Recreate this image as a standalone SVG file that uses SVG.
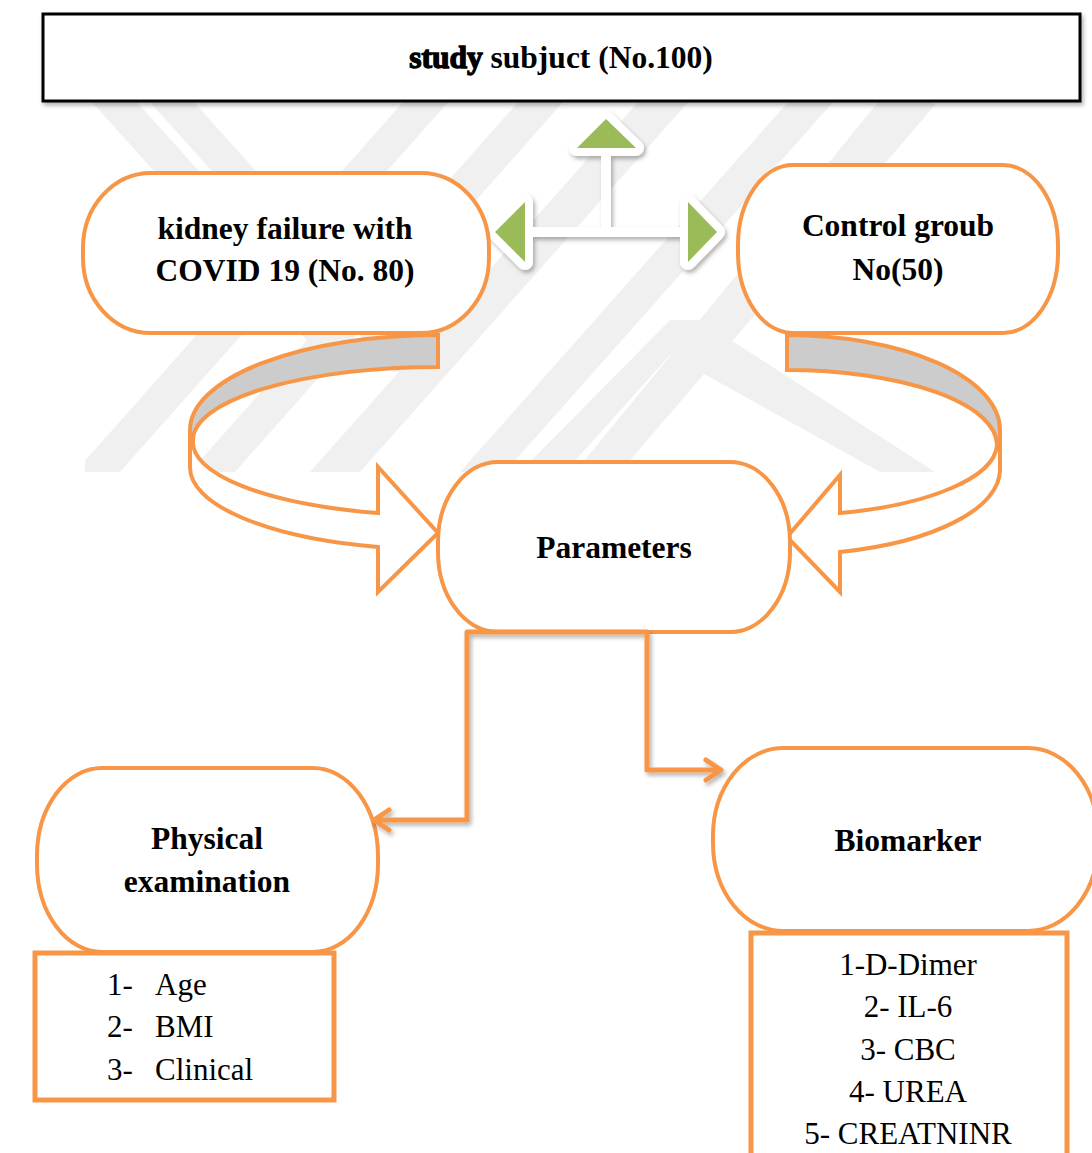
<svg xmlns="http://www.w3.org/2000/svg" width="1092" height="1153" viewBox="0 0 1092 1153">
  <style>
    .t { font-family: "Liberation Serif", "Times New Roman", serif; fill: #000; }
    .b { font-weight: bold; font-size: 31.5px; }
    .r { font-size: 31px; }
    .node { fill: #fff; stroke: #F79646; stroke-width: 4; }
    .list { fill: #fff; stroke: #F79646; stroke-width: 5; }
    .rib { stroke: #F79646; stroke-width: 4; stroke-linejoin: miter; }
    .conn { fill: none; stroke: #F79646; stroke-width: 5; stroke-linejoin: round; }
    .wm { fill: #f0f0f0; }
    .grn { fill: #9BBB59; }
  </style>
  <defs>
    <filter id="sh" x="-20%" y="-20%" width="140%" height="140%">
      <feDropShadow dx="2" dy="3" stdDeviation="2" flood-color="#000" flood-opacity="0.3"/>
    </filter>
    <clipPath id="wmclip"><rect x="85" y="100" width="850" height="372"/></clipPath>
    <marker id="chev" markerUnits="userSpaceOnUse" markerWidth="26" markerHeight="26" viewBox="0 0 26 26" refX="21" refY="13" orient="auto">
      <path d="M6,3 L21,13 L6,23" fill="none" stroke="#F79646" stroke-width="5" stroke-linecap="round" stroke-linejoin="round"/>
    </marker>
  </defs>
  <rect width="1092" height="1153" fill="#fff"/>

  <!-- watermark -->
  <g id="watermark" clip-path="url(#wmclip)">
    <polygon class="wm" points="90,100 135,100 380,372 335,372"/>
    <polygon class="wm" points="148,100 192,100 437,372 393,372"/>
    <polygon class="wm" points="520,100 565,100 235,472 190,472"/>
    <polygon class="wm" points="405,100 450,100 120,472 75,472"/>
    <polygon class="wm" points="640,100 690,100 360,472 310,472"/>
    <polygon class="wm" points="790,100 835,100 505,472 460,472"/>
    <polygon class="wm" points="670,320 700,320 935,472 880,472 670,355 565,472 520,472"/>
    <polygon class="wm" points="880,100 930,100 935,105 620,472 575,472"/>
  </g>

  <!-- ribbon arrows -->
  <g id="ribbon-left">
    <path class="rib" fill="#fff" d="M193,440 A245,73 0 0 0 378,513 L378,467 L438,533 L378,592 L378,547 A248,82 0 0 1 190,467 L190,440 Z"/>
    <path class="rib" fill="#cccccc" d="M438,335 A248,95 0 0 0 190,430 L190,440 L193,440 A245,73 0 0 1 438,367 Z"/>
  </g>
  <g id="ribbon-right">
    <path class="rib" fill="#fff" d="M997,445 A210,72 0 0 1 840,513 L840,475 L787,537 L840,592 L840,552 A213,85 0 0 0 1000,470 L1000,445 Z"/>
    <path class="rib" fill="#cccccc" d="M787,335 A213,95 0 0 1 1000,430 L1000,445 L997,445 A210,75 0 0 0 787,370 Z"/>
  </g>

  <!-- title -->
  <g id="title">
    <rect x="43" y="14" width="1037" height="87" fill="#fff" stroke="#000" stroke-width="3" filter="url(#sh)"/>
    <text class="t b" x="561" y="68" text-anchor="middle"><tspan stroke="#000" stroke-width="1.3">study</tspan> subjuct (No.100)</text>
  </g>

  <!-- three-way green arrow -->
  <g id="tri-arrow">
    <g filter="url(#sh)" fill="#fff" stroke="#fff" stroke-linejoin="round">
      <polygon points="606,119 636,148 577,148" stroke-width="16"/>
      <polygon points="495,232 525,202 525,262" stroke-width="16"/>
      <polygon points="717,232 688,202 688,262" stroke-width="16"/>
      <line x1="606" y1="150" x2="606" y2="232" stroke-width="10"/>
      <line x1="525" y1="232" x2="688" y2="232" stroke-width="10"/>
    </g>
    <polygon class="grn" points="606,119 636,148 577,148"/>
    <polygon class="grn" points="495,232 525,202 525,262"/>
    <polygon class="grn" points="717,232 688,202 688,262"/>
  </g>

  <g id="node-kidney">
    <rect class="node" x="83" y="173" width="406" height="160" rx="68" ry="75"/>
    <text class="t b" x="285" y="239" text-anchor="middle">kidney failure with</text>
    <text class="t b" x="285" y="281" text-anchor="middle">COVID 19 (No. 80)</text>
  </g>
  <g id="node-control">
    <rect class="node" x="738" y="165" width="320" height="168" rx="55" ry="80"/>
    <text class="t b" x="898" y="236" text-anchor="middle">Control groub</text>
    <text class="t b" x="898" y="280" text-anchor="middle">No(50)</text>
  </g>
  <g id="node-parameters">
    <rect class="node" x="438" y="462" width="352" height="170" rx="60" ry="80"/>
    <text class="t b" x="614" y="558" text-anchor="middle">Parameters</text>
  </g>
  <g id="node-physical">
    <rect class="node" x="37" y="768" width="341" height="184" rx="65" ry="88"/>
    <text class="t b" x="207" y="849" text-anchor="middle">Physical</text>
    <text class="t b" x="207" y="892" text-anchor="middle">examination</text>
  </g>
  <g id="list-physical">
    <rect class="list" x="35" y="953" width="299" height="147"/>
    <text class="t r" x="107" y="995">1-</text><text class="t r" x="155" y="995">Age</text>
    <text class="t r" x="107" y="1037">2-</text><text class="t r" x="155" y="1037">BMI</text>
    <text class="t r" x="107" y="1080">3-</text><text class="t r" x="155" y="1080">Clinical</text>
  </g>
  <g id="node-biomarker">
    <rect class="node" x="713" y="748" width="385" height="183" rx="70" ry="88"/>
    <text class="t b" x="908" y="851" text-anchor="middle">Biomarker</text>
  </g>
  <g id="list-biomarker">
    <rect class="list" x="751" y="933" width="316" height="240"/>
    <text class="t r" x="908" y="975" text-anchor="middle">1-D-Dimer</text>
    <text class="t r" x="908" y="1017" text-anchor="middle">2- IL-6</text>
    <text class="t r" x="908" y="1060" text-anchor="middle">3- CBC</text>
    <text class="t r" x="908" y="1102" text-anchor="middle">4- UREA</text>
    <text class="t r" x="908" y="1144" text-anchor="middle">5- CREATNINR</text>
  </g>

  <!-- connectors -->
  <g id="connectors" filter="url(#sh)">
    <path class="conn" d="M570,632 H467 V820 H374" marker-end="url(#chev)"/>
    <path class="conn" d="M570,632 H647 V770 H721" marker-end="url(#chev)"/>
  </g>
</svg>
